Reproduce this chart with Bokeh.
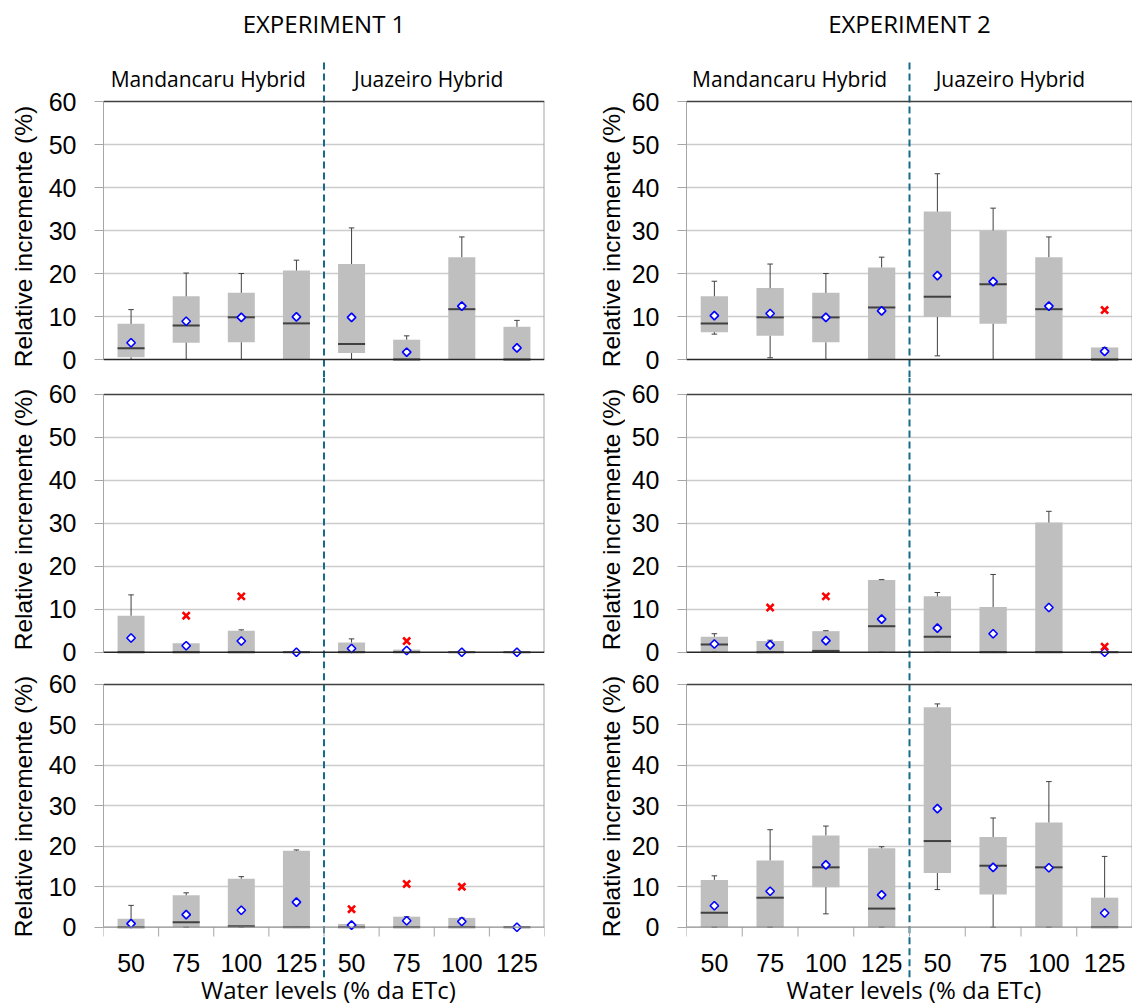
import numpy as np
from bokeh.plotting import figure
from bokeh.layouts import row, column
from bokeh.models import Range1d, FixedTicker, Span
from bokeh.core.properties import value
from bokeh.embed import file_html
from bokeh.resources import INLINE

# ---------------- data ----------------
LEVELS = ["50", "75", "100", "125", "50", "75", "100", "125"]
HYBRIDS = ["Mandancaru Hybrid", "Juazeiro Hybrid"]
EXPERIMENTS = ["EXPERIMENT 1", "EXPERIMENT 2"]
Y_TICKS = [0, 10, 20, 30, 40, 50, 60]
Y_LABEL = "Relative incremente (%)"
X_LABEL = "Water levels (% da ETc)"

# Experiment 1, row 1
a_min = [0, 0, 0, 0, 0, 0, 0, 0]
a_q1 = [0.5, 3.9, 4.0, 0, 1.5, 0, 0, 0]
a_med = [2.6, 7.9, 9.8, 8.4, 3.6, 0, 11.7, 0]
a_q3 = [8.3, 14.7, 15.5, 20.7, 22.2, 4.6, 23.8, 7.6]
a_max = [11.6, 20.1, 20.0, 23.1, 30.6, 5.5, 28.5, 9.1]
a_mean = [3.9, 8.9, 9.8, 9.9, 9.8, 1.7, 12.4, 2.7]
a_out_i = []
a_out_v = []

# Experiment 2, row 1
b_min = [5.9, 0.4, 0, 0, 0.85, 0, 0, 0]
b_q1 = [6.35, 5.5, 4.0, 0, 9.9, 8.3, 0, 0]
b_med = [8.4, 9.8, 9.8, 12.1, 14.6, 17.5, 11.7, 0]
b_q3 = [14.7, 16.6, 15.5, 21.4, 34.4, 30.0, 23.8, 2.8]
b_max = [18.2, 22.2, 20.0, 23.8, 43.2, 35.2, 28.5, 2.8]
b_mean = [10.2, 10.7, 9.8, 11.3, 19.5, 18.1, 12.4, 1.9]
b_out_i = [7]
b_out_v = [11.5]

# Experiment 1, row 2
c_min = [0, 0, 0, 0, 0, 0, 0, 0]
c_q1 = [0, 0, 0, 0, 0, 0, 0, 0]
c_med = [0, 0, 0, 0, 0, 0, 0, 0]
c_q3 = [8.5, 2.1, 5.0, 0, 2.25, 0.6, 0, 0]
c_max = [13.35, 2.1, 5.2, 0, 3.1, 0.6, 0, 0]
c_mean = [3.3, 1.5, 2.6, 0, 0.85, 0.4, 0, 0]
c_out_i = [1, 2, 5]
c_out_v = [8.5, 13.0, 2.6]

# Experiment 2, row 2
d_min = [0, 0, 0, 0, 0, 0, 0, 0]
d_q1 = [0, 0, 0, 0, 0, 0, 0, 0]
d_med = [1.8, 0, 0.3, 6.05, 3.6, 0, 0, 0]
d_q3 = [3.6, 2.6, 4.9, 16.8, 13.0, 10.5, 30.2, 0]
d_max = [4.3, 2.8, 5.0, 16.9, 13.9, 18.1, 32.8, 0]
d_mean = [1.9, 1.7, 2.7, 7.7, 5.6, 4.3, 10.4, 0]
d_out_i = [1, 2, 7]
d_out_v = [10.4, 13.0, 1.3]

# Experiment 1, row 3
e_min = [0, 0, 0, 0, 0, 0, 0, 0]
e_q1 = [0, 0, 0, 0, 0, 0, 0, 0]
e_med = [0, 1.2, 0.25, 0, 0, 0, 0, 0]
e_q3 = [2.1, 7.9, 12.0, 18.9, 0.8, 2.6, 2.3, 0]
e_max = [5.4, 8.5, 12.5, 19.1, 0.8, 2.6, 2.3, 0]
e_mean = [0.9, 3.1, 4.2, 6.2, 0.5, 1.6, 1.4, 0]
e_out_i = [4, 5, 6]
e_out_v = [4.45, 10.7, 10.0]

# Experiment 2, row 3
f_min = [0, 0, 3.3, 0, 9.3, 0, 0, 0]
f_q1 = [0, 0, 9.9, 0, 13.4, 8.1, 0, 0]
f_med = [3.6, 7.3, 14.8, 4.6, 21.3, 15.2, 14.8, 0]
f_q3 = [11.7, 16.5, 22.7, 19.5, 54.4, 22.3, 25.9, 7.3]
f_max = [12.7, 24.1, 25.0, 19.9, 55.2, 27.0, 36.0, 17.5]
f_mean = [5.3, 8.9, 15.4, 8.0, 29.3, 14.8, 14.7, 3.5]
f_out_i = []
f_out_v = []

PANELS = [
    [(a_min, a_q1, a_med, a_q3, a_max, a_mean, a_out_i, a_out_v),
     (b_min, b_q1, b_med, b_q3, b_max, b_mean, b_out_i, b_out_v)],
    [(c_min, c_q1, c_med, c_q3, c_max, c_mean, c_out_i, c_out_v),
     (d_min, d_q1, d_med, d_q3, d_max, d_mean, d_out_i, d_out_v)],
    [(e_min, e_q1, e_med, e_q3, e_max, e_mean, e_out_i, e_out_v),
     (f_min, f_q1, f_med, f_q3, f_max, f_mean, f_out_i, f_out_v)],
]

# ---------------- layout / style ----------------
TOTAL_H = 1007
ROW_H = [377, 291, 339]
ROW_Y = [(-4.186, 83.49), (-3.795, 63.958), (-19.85, 63.955)]
COL_W = [551, 507]
COL_MBL = [63, 61]
COL_MBR = [47, 0]
LAB_W = [40, 34]
LAB_X = [23, 20]                 # pixel x of label centre inside its strip
LAB_Y = [236, 519, 806]          # pixel y of label centres (from top)
HYB_X = [[1.9, 5.9], [1.85, 5.81]]

BOX_FILL = "#BFBFBF"
DARK = "#404040"
GRID = "#CCCCCC"
FRAME_GREY = "#A6A6A6"
DASH_COL = "#176B8A"
BOX_W = 0.49
CAP = 0.05

X = np.arange(8) + 0.5


def make_label_strip(c):
    p = figure(width=LAB_W[c], height=TOTAL_H, x_range=Range1d(0, LAB_W[c]),
               y_range=Range1d(0, TOTAL_H), output_backend="svg",
               toolbar_location=None, title=None, x_axis_location=None,
               y_axis_location=None, min_border=0, outline_line_color=None)
    p.grid.grid_line_color = None
    p.text(x=[LAB_X[c]] * 3, y=[TOTAL_H - v for v in LAB_Y], text=[Y_LABEL] * 3,
           angle=np.pi / 2, text_font=value("Liberation Sans"), text_font_size="24.5px",
           text_align="center", text_baseline="middle", text_color="#000000")
    return p


def make_panel(r, c):
    mn, q1, md, q3, mx, mean, oi, ov = PANELS[r][c]
    lo, hi = ROW_Y[r]
    p = figure(width=COL_W[c], height=ROW_H[r], x_range=Range1d(0, 8),
               y_range=Range1d(lo, hi), output_backend="svg",
               toolbar_location=None, title=None, x_axis_location=None,
               min_border_left=COL_MBL[c], min_border_right=COL_MBR[c],
               min_border_top=0, min_border_bottom=0,
               outline_line_color=None)
    p.xgrid.grid_line_color = None
    p.ygrid.ticker = FixedTicker(ticks=[10, 20, 30, 40, 50])
    p.ygrid.grid_line_color = GRID
    p.ygrid.grid_line_width = 1.5

    ax = p.yaxis[0]
    ax.ticker = FixedTicker(ticks=Y_TICKS)
    ax.bounds = (0, 60)
    ax.axis_line_color = FRAME_GREY
    ax.axis_line_width = 1
    ax.major_tick_line_color = FRAME_GREY
    ax.major_tick_out = 9
    ax.major_tick_in = 0
    ax.minor_tick_line_color = None
    ax.major_label_text_font = "Liberation Sans"
    ax.major_label_text_font_size = "25px"
    ax.major_label_text_color = "#000000"
    ax.major_label_standoff = 18

    # frame lines
    p.add_layout(Span(location=60, dimension="width", line_color=DARK, line_width=1.5))
    p.segment(x0=[8], y0=[0], x1=[8], y1=[60], line_color=FRAME_GREY, line_width=2)

    # boxes
    p.vbar(x=X, width=BOX_W, bottom=q1, top=q3, fill_color=BOX_FILL, line_color=None)
    # whiskers
    p.segment(x0=X, y0=q3, x1=X, y1=mx, line_color=DARK, line_width=1)
    p.segment(x0=X, y0=mn, x1=X, y1=q1, line_color=DARK, line_width=1)
    p.segment(x0=X - CAP, y0=mx, x1=X + CAP, y1=mx, line_color=DARK, line_width=1)
    p.segment(x0=X - CAP, y0=mn, x1=X + CAP, y1=mn, line_color=DARK, line_width=1)
    # medians
    p.segment(x0=X - BOX_W / 2, y0=md, x1=X + BOX_W / 2, y1=md, line_color=DARK, line_width=2)

    # zero line
    p.add_layout(Span(location=0, dimension="width",
                      line_color=("#8C8C8C" if r == 2 else "#262626"),
                      line_width=(1.2 if r == 2 else 1.5)))

    # means
    p.scatter(x=X, y=mean, marker="square", angle=np.pi / 4, size=6,
              fill_color="white", line_color="#0000FF", line_width=1.6)
    # outliers
    if oi:
        p.scatter(x=X[oi], y=ov, marker="x", size=10, line_color="#FF0000", line_width=2.6)

    # dashed separator between hybrids
    if r == 0:
        y0, y1 = lo, 69.53
    elif r == 1:
        y0, y1 = lo, hi
    else:
        y0, y1 = -12.4, hi
    p.segment(x0=[4], y0=[y0], x1=[4], y1=[y1], line_color=DASH_COL,
              line_width=2, line_dash="7 4")

    if r == 0:
        p.text(x=[4.0], y=[78.14], text=[EXPERIMENTS[c]], text_font=value("Open Sans"),
               text_font_size="24px", text_align="center", text_baseline="middle",
               text_color="#000000")
        p.text(x=HYB_X[c], y=[65.2, 65.2], text=HYBRIDS, text_font=value("Open Sans"),
               text_font_size="21px", text_align="center", text_baseline="middle",
               text_color="#000000")
    if r == 2:
        p.segment(x0=np.arange(9), y0=0, x1=np.arange(9), y1=-2.3,
                  line_color=FRAME_GREY, line_width=1)
        p.text(x=X, y=[-8.9] * 8, text=LEVELS, text_font=value("Liberation Sans"),
               text_font_size="25px", text_align="center", text_baseline="middle",
               text_color="#000000")
        p.text(x=[4.08], y=[-15.3], text=[X_LABEL], text_font=value("Open Sans"),
               text_font_size="24px", text_align="center", text_baseline="middle",
               text_color="#000000")
    return p


cols = []
for c in range(2):
    cols.append(make_label_strip(c))
    cols.append(column([make_panel(r, c) for r in range(3)]))
layout = row(cols)

open("out.html", "w").write(file_html(layout, INLINE))
